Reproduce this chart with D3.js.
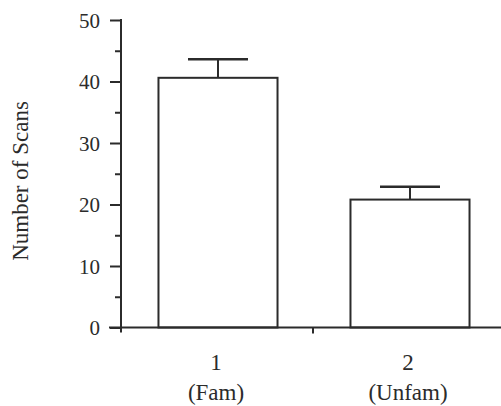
<!DOCTYPE html>
<html>
<head>
<meta charset="utf-8">
<script src="https://cdn.jsdelivr.net/npm/d3@7"></script>
<style>
  body { margin: 0; background: #fff; }
  svg { display: block; }
  svg text { font-family: "Liberation Serif", serif; }
  .ytitle { font-size: 23px; }
  .tick text { font-size: 21px; }
  .xlab text { font-size: 23px; }
</style>
</head>
<body>
<div class="chart"></div>
<script>
// data
var categories = ["1", "2"];
var sub_labels = ["(Fam)", "(Unfam)"];
var scan_means = [40.6, 20.8];
var scan_errors = [3.0, 2.1];
var y_ticks = [0, 10, 20, 30, 40, 50];
var y_minor_ticks = [5, 15, 25, 35, 45];

var width = 501, height = 406;
var ink = "#2b2b2b";

var svg = d3.select(".chart").append("svg")
  .attr("width", width)
  .attr("height", height);

var x_left = 121, x_right = 505;
var y_scale = d3.scaleLinear()
  .domain([0, 50])
  .range([327.5, 20]);

var x_scale = d3.scaleBand()
  .domain(categories)
  .range([x_left + 1, x_right + 1])
  .paddingInner(0.38)
  .paddingOuter(0.19);

var gap = (x_scale.step() - x_scale.bandwidth()) / 2;

// y axis
var y_axis = d3.axisLeft(y_scale)
  .tickValues(y_ticks)
  .tickSize(11)
  .tickPadding(10)
  .tickFormat(d3.format("d"));

var gy = svg.append("g")
  .attr("transform", "translate(" + x_left + ",0)")
  .call(y_axis);
gy.select(".domain").remove();
gy.selectAll(".tick line").attr("stroke", ink).attr("stroke-width", 2);
gy.selectAll(".tick text")
  .attr("dy", "0.34em")
  .attr("fill", ink);

var minor_axis = d3.axisLeft(y_scale)
  .tickValues(y_minor_ticks)
  .tickSize(6)
  .tickFormat("");
var gm = svg.append("g")
  .attr("transform", "translate(" + x_left + ",0)")
  .call(minor_axis);
gm.select(".domain").remove();
gm.selectAll(".tick line").attr("stroke", ink).attr("stroke-width", 2);

// y axis line (runs a little below zero)
svg.append("line")
  .attr("x1", x_left).attr("x2", x_left)
  .attr("y1", y_scale(50) - 1).attr("y2", y_scale(0) + 5)
  .attr("stroke", ink).attr("stroke-width", 2);

// bars
svg.selectAll("rect.bar")
  .data(scan_means)
  .enter()
  .append("rect")
  .attr("class", "bar")
  .attr("x", (d, i) => x_scale(categories[i]))
  .attr("y", d => y_scale(d))
  .attr("width", x_scale.bandwidth())
  .attr("height", d => y_scale(0) - y_scale(d))
  .attr("fill", "#fff")
  .attr("stroke", ink)
  .attr("stroke-width", 2);

// error bars
var err = svg.selectAll("g.err")
  .data(scan_means)
  .enter()
  .append("g")
  .attr("class", "err");
err.append("line")
  .attr("x1", (d, i) => x_scale(categories[i]) + x_scale.bandwidth() / 2)
  .attr("x2", (d, i) => x_scale(categories[i]) + x_scale.bandwidth() / 2)
  .attr("y1", d => y_scale(d))
  .attr("y2", (d, i) => y_scale(d + scan_errors[i]))
  .attr("stroke", ink).attr("stroke-width", 2);
err.append("line")
  .attr("x1", (d, i) => x_scale(categories[i]) + x_scale.bandwidth() / 2 - 30)
  .attr("x2", (d, i) => x_scale(categories[i]) + x_scale.bandwidth() / 2 + 30)
  .attr("y1", (d, i) => y_scale(d + scan_errors[i]))
  .attr("y2", (d, i) => y_scale(d + scan_errors[i]))
  .attr("stroke", ink).attr("stroke-width", 2.5);

// x axis line
svg.append("line")
  .attr("x1", 109).attr("x2", width)
  .attr("y1", y_scale(0)).attr("y2", y_scale(0))
  .attr("stroke", ink).attr("stroke-width", 2);

// boundary ticks between categories
svg.selectAll("line.xtick")
  .data(categories.slice(1))
  .enter()
  .append("line")
  .attr("class", "xtick")
  .attr("x1", d => x_scale(d) - gap - 1)
  .attr("x2", d => x_scale(d) - gap - 1)
  .attr("y1", y_scale(0))
  .attr("y2", y_scale(0) + 6)
  .attr("stroke", ink).attr("stroke-width", 2);

// category labels
var labels = svg.selectAll("g.xlab")
  .data(categories)
  .enter()
  .append("g")
  .attr("class", "xlab")
  .attr("transform", d => "translate(" + (x_scale(d) + x_scale.bandwidth() / 2 - 2) + ",0)");
labels.append("text")
  .attr("y", 370)
  .attr("text-anchor", "middle")
  .attr("fill", ink)
  .text(d => d);
labels.append("text")
  .attr("y", 400)
  .attr("text-anchor", "middle")
  .attr("fill", ink)
  .text((d, i) => sub_labels[i]);

// y title
svg.append("text")
  .attr("class", "ytitle")
  .attr("transform", "translate(28,181) rotate(-90)")
  .attr("text-anchor", "middle")
  .attr("fill", ink)
  .text("Number of Scans");
</script>
</body>
</html>
